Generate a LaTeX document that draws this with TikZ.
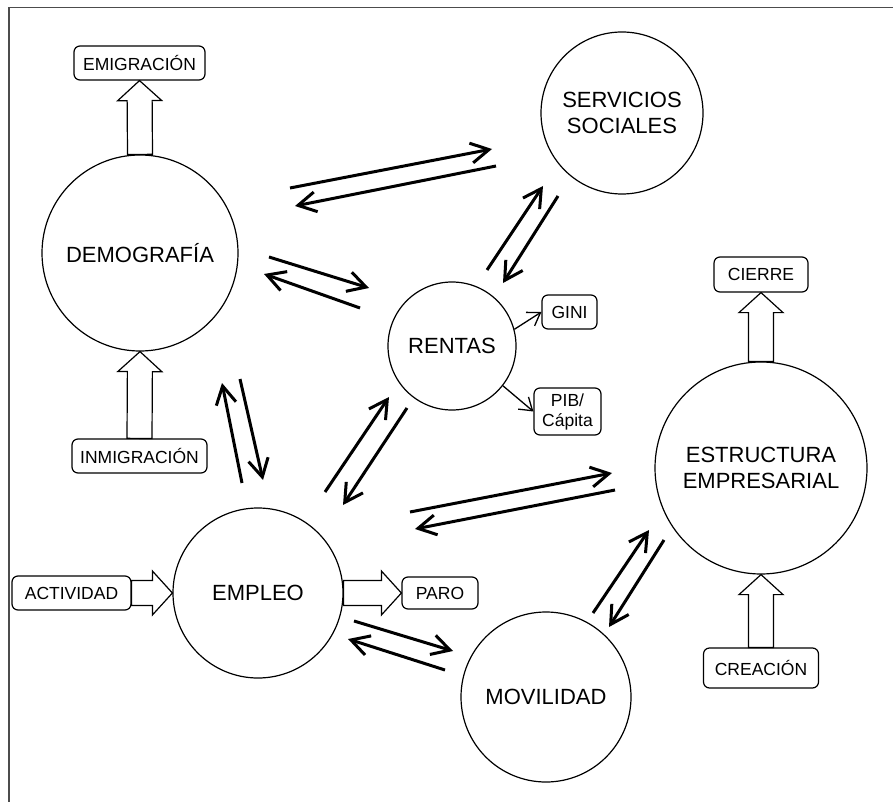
\documentclass[tikz,border=0pt]{standalone}
\usepackage{fontspec}
\setmainfont{Liberation Sans}
\usetikzlibrary{calc,arrows.meta}

% hollow block arrow from #1 (tail) to #2 (tip)
\newcommand{\bigarrow}[2]{%
  \draw[fat] ($(#1)!12.5pt!90:(#2)$) -- ($(#2)!20pt!(#1)!12.5pt!-90:(#1)$)
    -- ($(#2)!20pt!(#1)!22pt!-90:(#1)$) -- (#2)
    -- ($(#2)!20pt!(#1)!22pt!90:(#1)$) -- ($(#2)!20pt!(#1)!12.5pt!90:(#1)$)
    -- ($(#1)!12.5pt!-90:(#2)$) -- cycle;}

\begin{document}
\begin{tikzpicture}[x=1pt, y=-1pt,
  topic/.style={circle, draw, line width=1.2pt, inner sep=0pt, align=center,
    font=\fontsize{22}{26.5}\selectfont},
  tag/.style={rectangle, rounded corners=6pt, draw, line width=1.2pt, inner sep=0pt,
    align=center, font=\fontsize{17.5}{20}\selectfont},
  flow/.style={line width=3pt, -{Straight Barb[length=18pt,width=20pt]}},
  link/.style={line width=1.3pt, -{Straight Barb[length=12pt,width=16pt]}},
  fat/.style={draw, fill=white, line width=1.2pt}]
\useasboundingbox (0,0) rectangle (893,802);

% Page frame
\draw[black!70, line width=1.2pt] (9,802) -- (9,7.5) -- (893,7.5);

% Main topics
\node[topic, minimum size=196pt] (demo) at (140,253) {DEMOGRAFÍA};
\node[topic, minimum size=162pt] (serv) at (622,113) {SERVICIOS\\SOCIALES};
\node[topic, minimum size=128pt] (rentas) at (452,346) {RENTAS};
\node[topic, minimum size=212pt] (estr) at (761,468) {ESTRUCTURA\\EMPRESARIAL};
\node[topic, minimum size=170pt] (empleo) at (258,593) {EMPLEO};
\node[topic, minimum size=170pt] (movil) at (546,697) {MOVILIDAD};

% Inputs and outputs
\node[tag, minimum width=131pt, minimum height=34pt] (emi) at (139.5,63) {EMIGRACIÓN};
\node[tag, minimum width=135pt, minimum height=34pt] (inmi) at (139.5,456) {INMIGRACIÓN};
\node[tag, minimum width=55pt, minimum height=34pt] (gini) at (569.5,312) {GINI};
\node[tag, minimum width=67pt, minimum height=47pt] (pib) at (567.5,411.5) {PIB/\\Cápita};
\node[tag, minimum width=94pt, minimum height=35pt] (cierre) at (761,274.5) {CIERRE};
\node[tag, minimum width=115pt, minimum height=40pt] (creacion) at (761,668) {CREACIÓN};
\node[tag, minimum width=119pt, minimum height=34pt] (activ) at (71.5,593) {ACTIVIDAD};
\node[tag, minimum width=76pt, minimum height=32pt] (paro) at (440,593) {PARO};

% Block arrows
\bigarrow{demo.north}{emi.south}
\bigarrow{inmi.north}{demo.south}
\bigarrow{activ.east}{empleo.west}
\bigarrow{empleo.east}{paro.west}
\bigarrow{estr.north}{cierre.south}
\bigarrow{creacion.north}{estr.south}

% Indicators of rentas
\draw[link] (rentas.15) -- (gini.west);
\draw[link] (rentas.-38) -- (pib.west);

% Two-way relations
\draw[flow] ($(demo)+(150,-65)$) -- ($(serv)+(-130,36)$);
\draw[flow] ($(serv)+(-126,53)$) -- ($(demo)+(155,-47)$);
\draw[flow] ($(demo)+(129,4)$) -- ($(rentas)+(-83,-58)$);
\draw[flow] ($(rentas)+(-92,-38)$) -- ($(demo)+(124,21)$);
\draw[flow] ($(rentas)+(35,-76)$) -- ($(serv)+(-79,73)$);
\draw[flow] ($(serv)+(-64,83)$) -- ($(rentas)+(51,-63)$);
\draw[flow] ($(empleo)+(-16,-110)$) -- ($(demo)+(82,130)$);
\draw[flow] ($(demo)+(100,126)$) -- ($(empleo)+(5,-113)$);
\draw[flow] ($(empleo)+(67,-101)$) -- ($(rentas)+(-63,51)$);
\draw[flow] ($(rentas)+(-45,62)$) -- ($(empleo)+(85,-88)$);
\draw[flow] ($(empleo)+(152,-81)$) -- ($(estr)+(-149,5)$);
\draw[flow] ($(estr)+(-146,22)$) -- ($(empleo)+(157,-64)$);
\draw[flow] ($(empleo)+(96,28)$) -- ($(movil)+(-93,-46)$);
\draw[flow] ($(movil)+(-101,-27)$) -- ($(empleo)+(90,46)$);
\draw[flow] ($(movil)+(47,-84)$) -- ($(estr)+(-112,62)$);
\draw[flow] ($(estr)+(-97,72)$) -- ($(movil)+(63,-70)$);
\end{tikzpicture}
\end{document}
